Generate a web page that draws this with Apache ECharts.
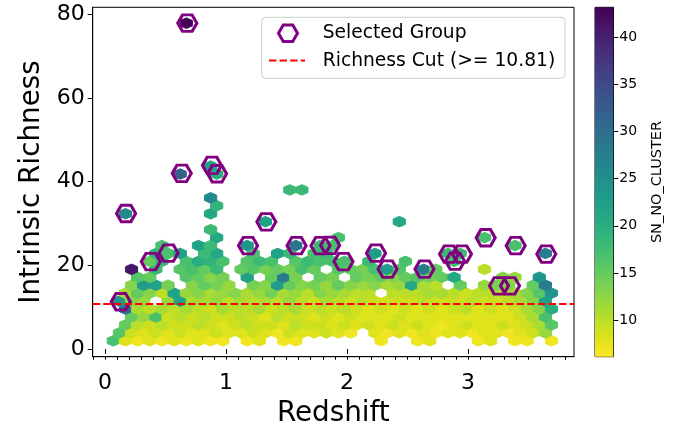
<!DOCTYPE html>
<html>
<head>
<meta charset="utf-8">
<script src="https://cdn.jsdelivr.net/npm/echarts@6/dist/echarts.min.js"></script>
<style>
  html, body { margin: 0; padding: 0; background: #fff; }
  #chart { width: 683px; height: 428px; }
</style>
</head>
<body>
<div id="chart"></div>
<script>
// Hexagonal binning lattice (redshift x intrinsic richness)
const binXStart = 0.068;   // redshift of the first lattice column
const binXStep = 0.1006;   // column spacing in redshift
const binYStart = 1.96;    // richness of the first lattice row
const binYStep = 3.797;    // spacing between rows of the same parity

// Mean SN_NO_CLUSTER per cell, one array per half-row k (richness = binYStart + k*binYStep/2).
// Even rows have 37 cells, odd rows are shifted by half a column and have 36. 0 = empty cell.
const hexRow00 = [17,8,7,8,7,8,7,8,7,7,0,7,8,0,7,7,0,0,0,0,0,0,7,0,0,7,8,0,0,0,7,8,0,7,7,0,7];
const hexRow01 = [16,9,8,9,8,9,8,8,9,8,8,9,8,7,9,8,8,9,8,7,0,8,7,8,7,8,7,8,8,7,8,8,7,8,9,12];
const hexRow02 = [0,15,10,9,10,9,9,10,9,8,9,10,9,9,8,10,9,9,8,9,8,9,8,9,8,9,8,7,8,9,8,8,9,8,9,11,16];
const hexRow03 = [0,15,12,17,9,10,9,10,9,9,10,9,8,10,9,9,8,9,8,9,8,8,8,9,8,8,8,8,8,8,8,8,8,9,11,17];
const hexRow04 = [0,30,11,10,11,10,11,10,9,11,10,10,11,9,10,11,9,10,9,10,9,8,9,8,9,8,9,8,9,10,8,9,8,9,11,13,20];
const hexRow05 = [24,13,12,0,12,22,11,11,12,10,11,10,11,10,12,10,9,11,10,9,10,9,9,9,9,10,9,9,9,10,9,9,10,11,13,22];
const hexRow06 = [0,11,15,13,10,22,12,13,11,12,13,11,12,14,11,12,10,13,12,11,10,10,0,10,10,10,11,11,10,9,10,10,10,11,13,16,24];
const hexRow07 = [0,13,23,22,14,0,13,15,14,12,0,14,13,23,15,13,14,12,15,13,12,13,11,12,21,11,10,0,15,0,12,14,13,0,15,28];
const hexRow08 = [0,0,16,15,0,0,16,15,13,14,0,22,0,15,28,14,0,15,14,0,15,14,15,13,15,16,14,15,21,0,0,0,13,12,0,24,0];
const hexRow09 = [0,41,0,18,0,16,17,15,18,0,15,16,14,15,14,17,15,0,16,15,14,17,23,16,0,28,15,0,0,0,10,0,0,0,0,0];
const hexRow10 = [0,0,0,15,18,0,17,20,19,17,0,16,18,17,0,16,18,17,17,17,0,18,0,0,17,0,0,0,17,0,0,0,0,0,0,0,0];
const hexRow11 = [0,0,0,19,17,22,0,18,21,0,0,17,0,22,18,0,17,18,0,0,0,23,0,0,0,0,0,18,18,0,0,0,0,0,0,28];
const hexRow12 = [0,0,0,0,17,0,0,22,18,0,0,24,0,0,0,29,0,18,17,0,0,0,0,0,0,0,0,0,0,0,0,0,0,17,0,0,0];

// Isolated cells higher up: [half-row k, column, mean SN_NO_CLUSTER]
const hexSparse = [
  [13, 8, 21], [13, 18, 17], [13, 30, 17], [14, 8, 18],
  [15, 12, 22], [15, 23, 21], [16, 1, 26], [16, 8, 21],
  [17, 8, 19], [18, 8, 26], [19, 14, 18], [19, 15, 18],
  [21, 5, 32], [21, 8, 20], [22, 8, 22], [40, 6, 43]
];

// Selected group members
const selRedshift = [0.680, 0.634, 0.884, 0.926, 0.174, 1.333, 0.130, 0.378, 0.525, 1.182,
                     1.583, 1.781, 1.860, 1.971, 2.240, 2.335, 2.640, 2.843, 2.893, 2.950,
                     3.146, 3.256, 3.347, 3.394, 3.647];
const selRichness = [77.9, 42.0, 43.9, 41.9, 32.4, 30.4, 11.3, 20.9, 22.9, 24.7,
                     24.7, 24.7, 24.8, 20.9, 22.9, 19.1, 19.1, 22.7, 21.0, 22.7,
                     26.6, 15.1, 15.1, 24.7, 22.7];

const richnessCut = 10.81;

// Axis ranges and ticks
const xRange = [-0.102, 3.876];
const yRange = [-1.84, 81.7];
const xMajorTicks = [0, 1, 2, 3];
const yMajorTicks = [0, 20, 40, 60, 80];
const colorRange = [6.1, 43.2];
const colorTicks = [10, 15, 20, 25, 30, 35, 40];

// viridis, dark to light
const viridis = ['#440154','#48186a','#472d7b','#424086','#3b528b','#33638d','#2c728e','#26828e',
                 '#21918c','#1fa088','#28ae80','#3fbc73','#5ec962','#84d44b','#addc30','#d8e219','#fde725'];

const xMinorTicks = [];
for (let i = -1; i <= 38; i++) xMinorTicks.push(i / 10);

// Assemble the cells into [redshift, richness, value]
const hexRows = [hexRow00, hexRow01, hexRow02, hexRow03, hexRow04, hexRow05, hexRow06,
                 hexRow07, hexRow08, hexRow09, hexRow10, hexRow11, hexRow12];
function cellCenter(k, c) {
  const shift = (k % 2) ? 0.5 : 0;
  return [binXStart + (c + shift) * binXStep, binYStart + k * binYStep / 2];
}
const hexCells = [];
hexRows.forEach((row, k) => row.forEach((v, c) => {
  if (v > 0) hexCells.push([...cellCenter(k, c), v]);
}));
hexSparse.forEach(([k, c, v]) => hexCells.push([...cellCenter(k, c), v]));

const selPoints = selRedshift.map((z, i) => [z, selRichness[i]]);

const FONT = 'DejaVu Sans';
const chart = echarts.init(document.getElementById('chart'), null, { renderer: 'canvas' });

const hexPath = 'path://M0,8.66 L5,0 L15,0 L20,8.66 L15,17.32 L5,17.32 Z';

// legend drawn as a small framed box
const lgX = 261.7, lgY = 17.3, lgW = 303.3, lgH = 61;
const mk = { cx: 288, cy: 33.3, hw: 9.5, hh: 8.25 };

chart.setOption({
  animation: false,
  textStyle: { fontFamily: FONT, color: '#000' },
  grid: [
    { left: 92.7, top: 7.3, width: 481.3, height: 349.4, outerBoundsMode: 'none', containLabel: false,
      show: true, borderColor: '#000', borderWidth: 1, backgroundColor: 'transparent' },
    { left: 595, top: 7.3, width: 18.3, height: 349.4, outerBoundsMode: 'none', containLabel: false,
      show: true, borderColor: '#000', borderWidth: 1, backgroundColor: 'transparent' }
  ],
  xAxis: [
    {
      gridIndex: 0, type: 'value', min: xRange[0], max: xRange[1], position: 'bottom',
      axisLine: { show: true, onZero: false, lineStyle: { color: '#000', width: 1 } },
      axisTick: { show: true, customValues: xMinorTicks, length: 3, lineStyle: { color: '#000', width: 1 } },
      axisLabel: { show: true, customValues: xMajorTicks, fontSize: 22, color: '#000', margin: 16, fontFamily: FONT },
      splitLine: { show: false },
      name: 'Redshift', nameLocation: 'middle', nameGap: 40,
      nameTextStyle: { fontSize: 27.8, color: '#000', fontFamily: FONT }
    },
    {
      gridIndex: 0, type: 'value', min: xRange[0], max: xRange[1], position: 'bottom',
      axisLine: { show: false },
      axisTick: { show: true, customValues: xMajorTicks, length: 5, lineStyle: { color: '#000', width: 1 } },
      axisLabel: { show: false },
      splitLine: { show: false }
    },
    {
      gridIndex: 1, type: 'value', min: 0, max: 1, show: false
    }
  ],
  yAxis: [
    {
      gridIndex: 0, type: 'value', min: yRange[0], max: yRange[1],
      axisLine: { show: true, onZero: false, lineStyle: { color: '#000', width: 1 } },
      axisTick: { show: true, customValues: yMajorTicks, length: 5, lineStyle: { color: '#000', width: 1 } },
      axisLabel: { show: true, customValues: yMajorTicks, fontSize: 22, color: '#000', margin: 8, fontFamily: FONT },
      splitLine: { show: false },
      name: 'Intrinsic Richness', nameLocation: 'middle', nameGap: 40,
      nameTextStyle: { fontSize: 27.8, color: '#000', fontFamily: FONT }
    },
    {
      gridIndex: 1, type: 'value', min: colorRange[0], max: colorRange[1], position: 'right',
      axisLine: { show: true, onZero: false, lineStyle: { color: '#000', width: 1 } },
      axisTick: { show: true, customValues: colorTicks, length: 5, lineStyle: { color: '#000', width: 1 } },
      axisLabel: { show: true, customValues: colorTicks, fontSize: 14, color: '#000', margin: 6, fontFamily: FONT },
      splitLine: { show: false },
      name: 'SN_NO_CLUSTER', nameLocation: 'middle', nameGap: 36, nameRotate: 90,
      nameTextStyle: { fontSize: 14.5, color: '#000', fontFamily: FONT }
    }
  ],
  visualMap: {
    show: false, type: 'continuous', seriesIndex: 0, dimension: 2,
    min: colorRange[0], max: colorRange[1],
    inRange: { color: viridis.slice().reverse() }
  },
  series: [
    {
      type: 'custom', name: 'hexbin', xAxisIndex: 0, yAxisIndex: 0, z: 2,
      data: hexCells,
      encode: { x: 0, y: 1 },
      renderItem: function (params, api) {
        const x = api.value(0), y = api.value(1);
        const hx = binXStep / 2, hy = binYStep / 6;
        const pts = [[x + hx, y - hy], [x + hx, y + hy], [x, y + 2 * hy],
                     [x - hx, y + hy], [x - hx, y - hy], [x, y - 2 * hy]].map(p => api.coord(p));
        const color = api.visual('color');
        return { type: 'polygon', shape: { points: pts }, style: { fill: color, stroke: color, lineWidth: 1 } };
      }
    },
    {
      type: 'scatter', name: 'Selected Group', xAxisIndex: 0, yAxisIndex: 0, z: 3,
      data: selPoints,
      symbol: hexPath, symbolSize: [19, 16.5], symbolKeepAspect: false,
      itemStyle: { color: 'rgba(0,0,0,0)', borderColor: '#800080', borderWidth: 3, opacity: 1 },
      emphasis: { disabled: true },
      markLine: {
        silent: true, symbol: ['none', 'none'], z: 5,
        label: { show: false },
        lineStyle: { color: '#ff0000', width: 2, type: [7.4, 3.2] },
        data: [{ yAxis: richnessCut }]
      }
    },
    {
      type: 'custom', name: 'colorbar', xAxisIndex: 2, yAxisIndex: 1, z: 2,
      data: [[0, colorRange[0], 1, colorRange[1]]],
      renderItem: function (params, api) {
        const p0 = api.coord([api.value(0), api.value(3)]);
        const p1 = api.coord([api.value(2), api.value(1)]);
        const stops = viridis.map((c, i) => ({ offset: i / (viridis.length - 1), color: c }));
        return {
          type: 'rect',
          shape: { x: p0[0], y: p0[1], width: p1[0] - p0[0], height: p1[1] - p0[1] },
          style: { fill: new echarts.graphic.LinearGradient(0, 0, 0, 1, stops) }
        };
      }
    }
  ],
  graphic: [
    {
      type: 'rect', z: 100,
      shape: { x: lgX, y: lgY, width: lgW, height: lgH, r: 4 },
      style: { fill: 'rgba(255,255,255,0.8)', stroke: '#cccccc', lineWidth: 1 }
    },
    {
      type: 'polygon', z: 101,
      shape: { points: [[mk.cx - mk.hw, mk.cy], [mk.cx - mk.hw / 2, mk.cy - mk.hh], [mk.cx + mk.hw / 2, mk.cy - mk.hh],
                        [mk.cx + mk.hw, mk.cy], [mk.cx + mk.hw / 2, mk.cy + mk.hh], [mk.cx - mk.hw / 2, mk.cy + mk.hh]] },
      style: { fill: 'none', stroke: '#800080', lineWidth: 3 }
    },
    {
      type: 'line', z: 101,
      shape: { x1: 269, y1: 60.5, x2: 305, y2: 60.5 },
      style: { stroke: '#ff0000', lineWidth: 2, lineDash: [7.4, 3.2] }
    },
    {
      type: 'text', z: 101, x: 322.7, y: 33.3,
      style: { text: 'Selected Group', fill: '#000', font: '18.7px "DejaVu Sans"', verticalAlign: 'middle', align: 'left' }
    },
    {
      type: 'text', z: 101, x: 322.7, y: 61,
      style: { text: 'Richness Cut (>= 10.81)', fill: '#000', font: '18.7px "DejaVu Sans"', verticalAlign: 'middle', align: 'left' }
    }
  ]
});
</script>
</body>
</html>
